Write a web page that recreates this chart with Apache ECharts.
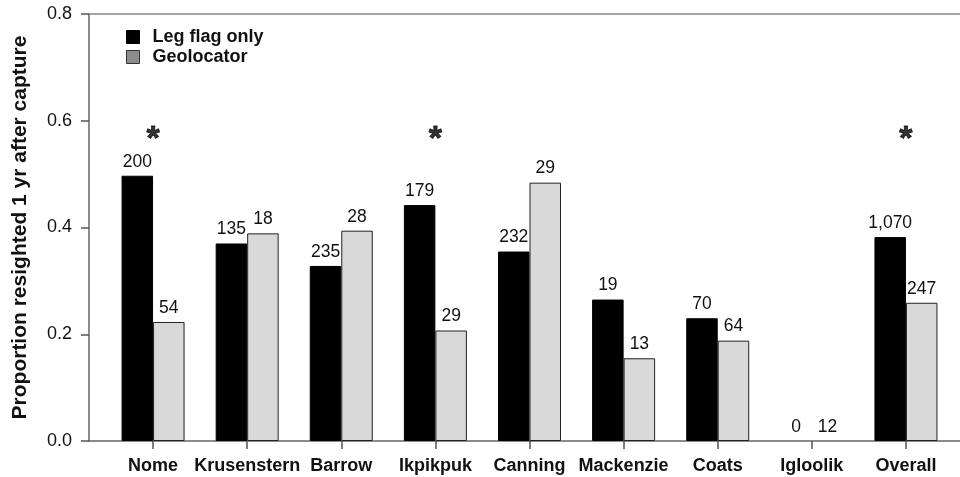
<!DOCTYPE html>
<html>
<head>
<meta charset="utf-8">
<script src="https://cdn.jsdelivr.net/npm/echarts@6/dist/echarts.min.js"></script>
<style>html,body{margin:0;padding:0;background:#fff;}#c{width:960px;height:477px;}</style>
</head>
<body>
<div id="c"></div>
<script>
var categories = ['Nome','Krusenstern','Barrow','Ikpikpuk','Canning','Mackenzie','Coats','Igloolik','Overall'];
var legFlag = [0.497, 0.370, 0.328, 0.442, 0.355, 0.265, 0.230, 0, 0.382];
var geolocator = [0.223, 0.389, 0.394, 0.207, 0.484, 0.155, 0.188, 0, 0.259];
var legFlagN = ['200','135','235','179','232','19','70','0','1,070'];
var geolocatorN = ['54','18','28','29','29','13','64','12','247'];
var significant = [true, false, false, true, false, false, false, false, true];
var yTicks = [0.0, 0.2, 0.4, 0.6, 0.8];

var FONT = '"Liberation Sans", Arial, sans-serif';
var chart = echarts.init(document.getElementById('c'), null, {renderer:'canvas'});
var starData = significant.map(function(s){ return s ? 0.564 : '-'; });
function barData(arr){
  return arr.map(function(v){ return v === 0 ? {value:0, itemStyle:{borderWidth:0}} : v; });
}

chart.setOption({
  animation:false,
  textStyle:{fontFamily:FONT},
  grid:[
    {left:106, right:7, top:14, bottom:36},
    {left:89, right:0, top:14, bottom:36}
  ],
  legend:{
    orient:'vertical', left:121, top:23, itemWidth:13, itemHeight:13, itemGap:2,
    icon:'rect',
    textStyle:{fontFamily:FONT, fontSize:18, fontWeight:'bold', color:'#111', padding:[0,0,0,8]},
    data:[
      {name:'Leg flag only', itemStyle:{color:'#000', borderColor:'#000', borderWidth:1}},
      {name:'Geolocator', itemStyle:{color:'#8c8c8c', borderColor:'#333', borderWidth:1}}
    ]
  },
  xAxis:[
    {type:'category', gridIndex:0, data:categories,
     axisLine:{show:false},
     axisTick:{show:true, alignWithLabel:true, length:8, lineStyle:{color:'#555', width:1.5}},
     axisLabel:{fontFamily:FONT, fontSize:18, fontWeight:'bold', color:'#111', margin:16, interval:0}},
    {type:'value', gridIndex:1, min:0, max:1, position:'bottom',
     axisLine:{show:true, lineStyle:{color:'#666', width:1.5}},
     axisTick:{show:false}, axisLabel:{show:false}, splitLine:{show:false}},
    {type:'value', gridIndex:1, min:0, max:1, position:'top',
     axisLine:{show:true, onZero:false, lineStyle:{color:'#888', width:1.5}},
     axisTick:{show:false}, axisLabel:{show:false}, splitLine:{show:false}}
  ],
  yAxis:[
    {type:'value', gridIndex:0, min:0, max:0.8, interval:0.2, show:false, splitLine:{show:false}},
    {type:'value', gridIndex:1, min:0, max:0.8, interval:0.2,
     name:'Proportion resighted 1 yr after capture', nameLocation:'middle', nameGap:58,
     nameTextStyle:{fontFamily:FONT, fontSize:21, fontWeight:'bold', color:'#111'},
     axisLine:{show:true, lineStyle:{color:'#666', width:1.5}},
     axisTick:{show:true, length:8, lineStyle:{color:'#555', width:1.5}},
     axisLabel:{fontFamily:FONT, fontSize:18, color:'#111', margin:17,
       formatter:function(v){ return v.toFixed(1); }},
     splitLine:{show:false}}
  ],
  series:[
    {name:'Leg flag only', type:'bar', xAxisIndex:0, yAxisIndex:0, data:barData(legFlag),
     barWidth:31.5, barGap:'0%',
     itemStyle:{color:'#000', borderColor:'#000', borderWidth:1},
     label:{show:true, position:'top', distance:5, fontFamily:FONT, fontSize:17.5, color:'#111',
       formatter:function(p){ return legFlagN[p.dataIndex]; }}},
    {name:'Geolocator', type:'bar', xAxisIndex:0, yAxisIndex:0, data:barData(geolocator),
     barWidth:31.5, barGap:'0%',
     itemStyle:{color:'#d9d9d9', borderColor:'#222', borderWidth:1},
     label:{show:true, position:'top', distance:5, fontFamily:FONT, fontSize:17.5, color:'#111',
       formatter:function(p){ return geolocatorN[p.dataIndex]; }}},
    {name:'sig', type:'scatter', xAxisIndex:0, yAxisIndex:0, data:starData,
     symbol:'circle', symbolSize:2, itemStyle:{color:'rgba(0,0,0,0)'}, silent:true,
     label:{show:true, position:'inside', fontFamily:FONT, fontSize:34, fontWeight:'bold', color:'#000',
       textBorderColor:'#000', textBorderWidth:0.8,
       formatter:function(){ return '*'; }}}
  ]
});
</script>
</body>
</html>
